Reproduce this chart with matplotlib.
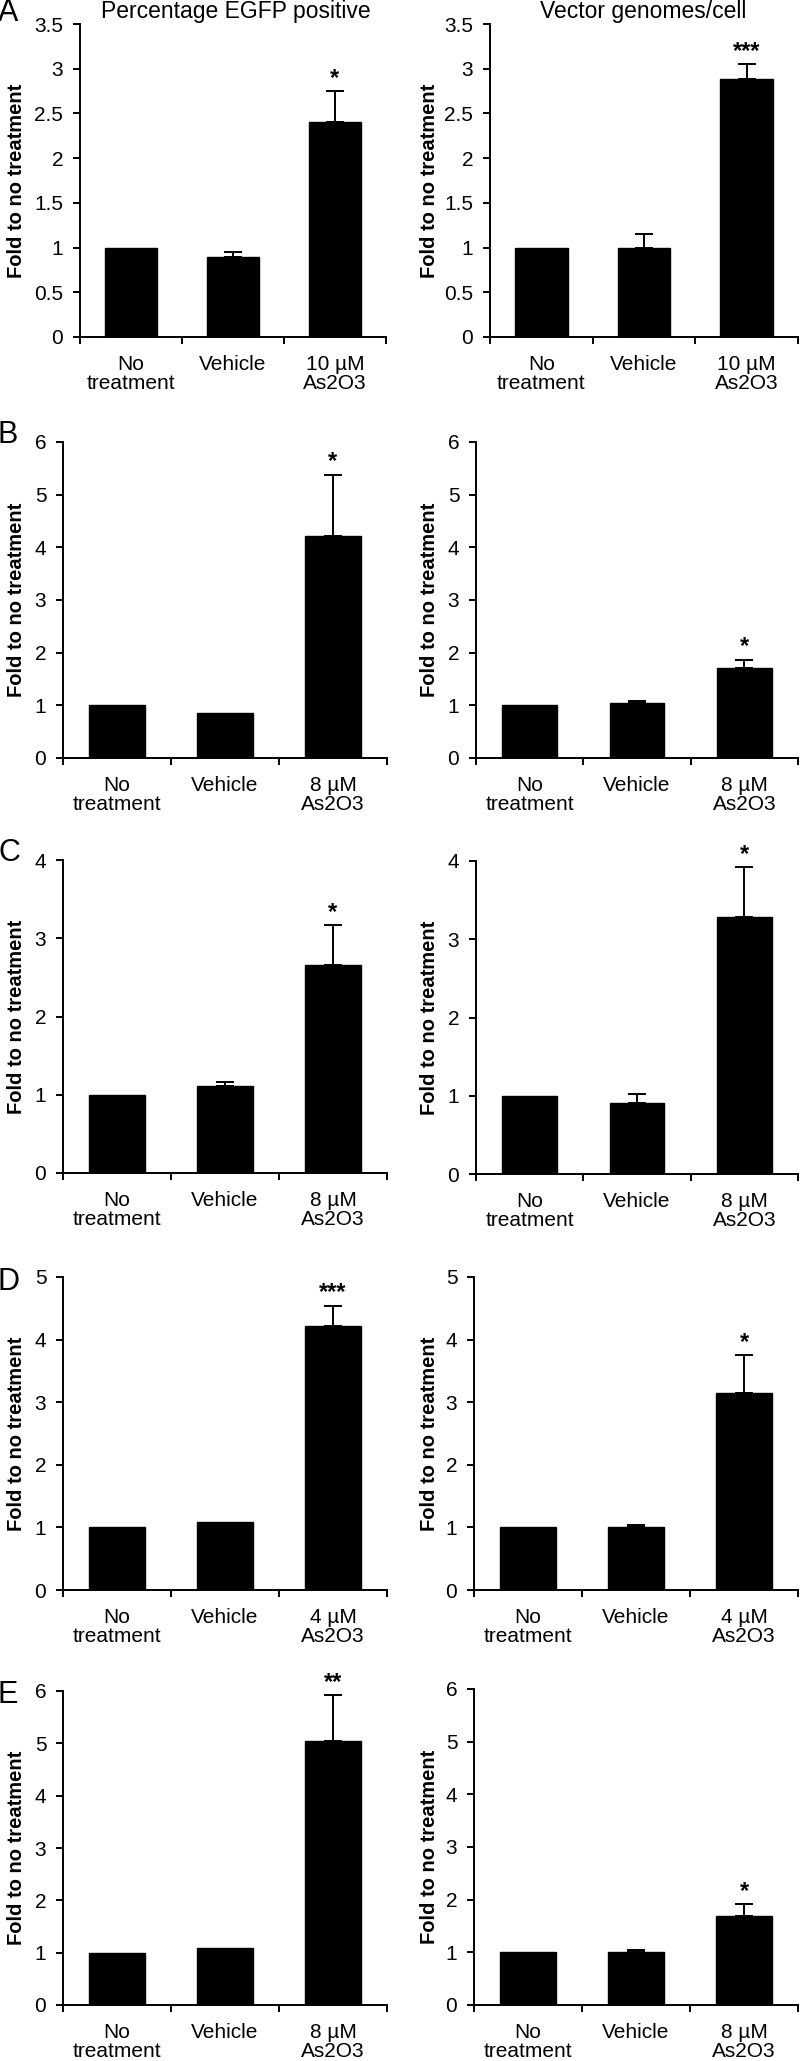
import matplotlib
matplotlib.use("Agg")
import matplotlib.pyplot as plt
import numpy as np

plt.rcParams["font.family"] = ["Liberation Sans", "DejaVu Sans"]

# data
panel_letters = ["A", "B", "C", "D", "E"]
doses = ["10 µM\nAs2O3", "8 µM\nAs2O3", "8 µM\nAs2O3", "4 µM\nAs2O3", "8 µM\nAs2O3"]
base_labels = ["No\ntreatment", "Vehicle"]
y_max = [3.5, 6, 4, 5, 6]
y_step = [0.5, 1, 1, 1, 1]

egfp_vals = [[1, 0.90, 2.40], [1, 0.85, 4.22], [1, 1.11, 2.66], [1, 1.08, 4.22], [1, 1.09, 5.05]]
egfp_err = [[0, 0.05, 0.35], [0, 0, 1.16], [0, 0.05, 0.51], [0, 0, 0.32], [0, 0, 0.87]]
egfp_stars = ["*", "*", "*", "***", "**"]

vg_vals = [[1, 1.00, 2.88], [1, 1.05, 1.70], [1, 0.91, 3.29], [1, 1.01, 3.15], [1, 1.01, 1.69]]
vg_err = [[0, 0.15, 0.17], [0, 0.04, 0.17], [0, 0.11, 0.63], [0, 0.03, 0.60], [0, 0.04, 0.22]]
vg_stars = ["***", "*", "*", "*", "*"]

W, H = 800, 2061
fig = plt.figure(figsize=(W / 100, H / 100), dpi=100)

# axes boxes in pixels: (left, top, right, bottom)
left_boxes = [(80, 24, 386, 337), (63, 442, 387, 758), (63, 860, 387, 1173),
              (63, 1277, 387, 1590), (63, 1691, 387, 2005)]
right_boxes = [(490, 24, 798, 337), (476, 442, 798, 758), (476, 861, 798, 1174),
               (474, 1277, 798, 1590), (474, 1689, 798, 2005)]
letter_pos = [(-2, -2), (-2, 420), (-2, 838), (-2, 1267), (-2, 1680)]


def draw_panel(box, vals, errs, star, labels, ymax, ystep, ylabel_x):
    l, t, r, b = box
    ax = fig.add_axes([l / W, 1 - b / H, (r - l) / W, (b - t) / H])
    x = np.arange(3)
    vals = np.array(vals, dtype=float)
    errs = np.array(errs, dtype=float)
    ax.bar(x, vals, width=0.51, color="black", edgecolor="black", zorder=2)
    m = errs > 0
    ax.errorbar(x[m], vals[m], yerr=[np.zeros(m.sum()), errs[m]], fmt="none",
                ecolor="black", elinewidth=1.4, capsize=6.5, capthick=1.4, zorder=3)
    top = vals[2] + errs[2]
    ax.annotate(star, (x[2], top), xytext=(0, 1), textcoords="offset points",
                ha="center", va="bottom", fontsize=17, fontweight="bold")
    ax.set_xlim(-0.5, 2.5)
    ax.set_ylim(0, ymax)
    ticks = np.arange(0, ymax + 1e-9, ystep)
    ax.set_yticks(ticks)
    ax.set_yticklabels([f"{v:g}" for v in ticks])
    ax.set_xticks([-0.5, 0.5, 1.5, 2.5])
    ax.set_xticklabels([])
    ax.set_xticks(x, minor=True)
    ax.set_xticklabels(labels, minor=True, fontsize=15, linespacing=1.0)
    ax.tick_params(axis="x", which="minor", length=0, pad=13)
    ax.tick_params(axis="x", which="major", length=5, width=1.4, direction="out")
    ax.tick_params(axis="y", length=5, width=1.4, labelsize=15, pad=7)
    for s in ["top", "right"]:
        ax.spines[s].set_visible(False)
    for s in ["left", "bottom"]:
        ax.spines[s].set_linewidth(1.4)
    ax.set_ylabel("Fold to no treatment", fontsize=14.5, fontweight="bold")
    ax.yaxis.set_label_coords((ylabel_x - l) / (r - l), 0.5)
    return ax


for i in range(5):
    labels = base_labels + [doses[i]]
    draw_panel(left_boxes[i], egfp_vals[i], egfp_err[i], egfp_stars[i], labels,
               y_max[i], y_step[i], 26)
    draw_panel(right_boxes[i], vg_vals[i], vg_err[i], vg_stars[i], labels,
               y_max[i], y_step[i], 439)
    lx, ly = letter_pos[i]
    fig.text(lx / W, 1 - ly / H, panel_letters[i], fontsize=22, ha="left", va="top")

fig.text(236 / W, 1 - 0 / H, "Percentage EGFP positive", fontsize=16.5, ha="center", va="top")
fig.text(643 / W, 1 - 0 / H, "Vector genomes/cell", fontsize=16.5, ha="center", va="top")

fig.savefig("out.png", dpi=100)
